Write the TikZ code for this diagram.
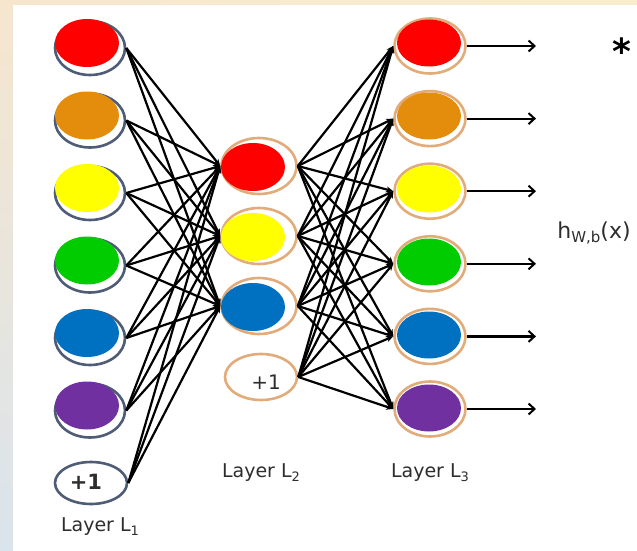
\documentclass[tikz,border=0pt]{standalone}
\usepackage{fontspec}
\setmainfont{DejaVu Sans}
\usetikzlibrary{shapes.geometric,arrows.meta}
\definecolor{cRed}{RGB}{255,0,0}
\definecolor{cOrange}{RGB}{228,140,12}
\definecolor{cYellow}{RGB}{255,255,0}
\definecolor{cGreen}{RGB}{0,204,0}
\definecolor{cBlue}{RGB}{0,112,192}
\definecolor{cPurple}{RGB}{112,48,160}
\definecolor{ringA}{RGB}{78,92,118}
\definecolor{ringB}{RGB}{226,172,122}
\definecolor{bgTop}{RGB}{246,230,206}
\definecolor{bgBot}{RGB}{218,228,236}
\definecolor{bgBand}{RGB}{248,238,205}
\definecolor{txt}{RGB}{45,45,45}
\begin{document}
\begin{tikzpicture}[x=1pt,y=-1pt,
  ringone/.style={ellipse,draw=ringA,fill=white,line width=2.6pt,inner sep=0pt,minimum width=70pt,minimum height=54pt},
  ringtwo/.style={ellipse,draw=ringB,fill=white,line width=2.6pt,inner sep=0pt,minimum width=75pt,minimum height=56pt},
  ringthree/.style={ellipse,draw=ringB,fill=white,line width=2.6pt,inner sep=0pt,minimum width=71pt,minimum height=55pt},
  edge/.style={black,line width=2.2pt,-{Stealth[length=7pt,width=6pt]}},
  outarrow/.style={black,line width=2.2pt,-{Straight Barb[length=6pt,width=11pt,line width=2pt]}},
  lbl/.style={text=txt,font=\fontsize{19}{19}\selectfont,inner sep=0pt},
  bias/.style={text=txt,inner sep=0pt}]
\useasboundingbox (0,0) rectangle (637,551);
% background
\shade[top color=bgTop,bottom color=bgBot] (0,0) rectangle (637,551);
\shade[left color=bgTop,right color=bgBand] (0,0) rectangle (637,6);
\fill[white] (13,5) rectangle (637,551);

% layer 1
\foreach \k/\c in {1/cRed,2/cOrange,3/cYellow,4/cGreen,5/cBlue,6/cPurple}{
  \node[ringone] (a\k) at (90,{48+72.5*(\k-1)}) {};
  \fill[\c] (87,{43+72.5*(\k-1)}) ellipse [x radius=32, y radius=24];
}
\node[ringone,minimum width=72pt,minimum height=42pt] (a7) at (91,483) {};
\node[bias,font=\fontsize{21}{21}\selectfont\bfseries] (p1) at (86,482) {+1};

% layer 2
\foreach \k/\c in {1/cRed,2/cYellow,3/cBlue}{
  \node[ringtwo] (b\k) at (259,{166+70*(\k-1)}) {};
  \fill[\c] (253,{167+70*(\k-1)}) ellipse [x radius=32, y radius=24];
}
\node[ringtwo,minimum width=72pt,minimum height=46pt] (b4) at (261,377) {};
\node[bias,font=\fontsize{20}{20}\selectfont] (p2) at (266,382) {+1};

% layer 3
\foreach \k/\c in {1/cRed,2/cOrange,3/cYellow,4/cGreen,5/cBlue,6/cPurple}{
  \node[ringthree] (c\k) at (430,{46+72.6*(\k-1)}) {};
  \fill[\c] (429,{43+73*(\k-1)}) ellipse [x radius=32, y radius=23.5];
  \coordinate (o\k) at (536,{46+72.6*(\k-1)});
  \draw[outarrow] (c\k.east) -- (o\k);
}

% connections
\foreach \i in {1,...,7}{
  \foreach \j in {1,2,3}{
    \draw[edge] (a\i.east) -- (b\j.west);
  }
}
\foreach \i in {1,...,4}{
  \foreach \j in {1,...,6}{
    \draw[edge] (b\i.east) -- (c\j.west);
  }
}

% labels
\node[lbl] (l1) at (100,527) {Layer L\raisebox{-0.35ex}{\fontsize{13}{13}\selectfont 1}};
\node[lbl] (l2) at (261,473) {Layer L\raisebox{-0.35ex}{\fontsize{13}{13}\selectfont 2}};
\node[lbl] (l3) at (430,473) {Layer L\raisebox{-0.35ex}{\fontsize{13}{13}\selectfont 3}};
\node[lbl,font=\fontsize{22}{22}\selectfont] (h) at (594,233) {h\raisebox{-0.4ex}{\fontsize{15}{15}\selectfont W,b}(x)};
\node[inner sep=0pt,font=\fontsize{36}{36}\selectfont\bfseries] (star) at (622,51) {*};
\end{tikzpicture}
\end{document}
